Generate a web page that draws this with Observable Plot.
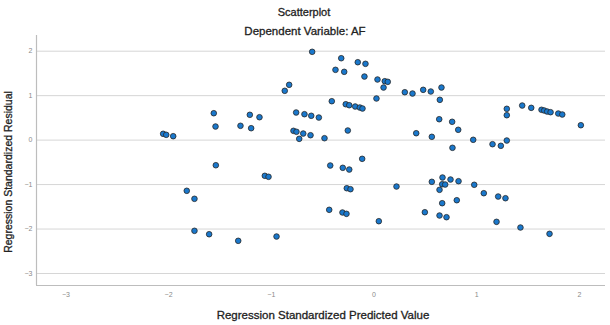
<!DOCTYPE html>
<html>
<head>
<meta charset="utf-8">
<script src="https://cdn.jsdelivr.net/npm/d3@7"></script>
<script src="https://cdn.jsdelivr.net/npm/@observablehq/plot@0.6"></script>
<style>
  html, body { margin: 0; padding: 0; background: #fff; }
  #chart svg { display: block; }
</style>
</head>
<body>
<div id="chart"></div>
<script>
const title = "Scatterplot";
const subtitle = "Dependent Variable: AF";
const xLabel = "Regression Standardized Predicted Value";
const yLabel = "Regression Standardized Residual";
const xTicks = [-3, -2, -1, 0, 1, 2];
const yTicks = [-3, -2, -1, 0, 1, 2];

// Standardized predicted values (x) and standardized residuals (y)
const predicted = [
  -2.053, -2.023, -1.955, -1.560, -1.543, -1.540, -1.823, -1.748, -1.748, -1.605,
  -0.602, -0.319, -0.158, -0.083, -0.375, -0.290, -0.093, -0.826, -0.869, 0.034,
  0.105, 0.134, 0.093, 0.300, 0.375, 0.024, -0.411, -0.275, -0.241, -0.183,
  -0.138, -0.112, -1.209, -1.115, -0.758, -0.677, -0.611, -0.537, -1.300, -1.196,
  -0.255, -0.784, -0.755, -0.689, -0.618, -0.728, -0.482, 0.411, -0.115, -0.426,
  -0.304, -0.241, -1.063, -1.027, -0.265, -0.229, 0.219, -0.436, -0.307, -0.268,
  0.047, -1.322, -0.949, 0.479, 0.553, 0.657, 0.641, 1.443, 1.531, 1.293,
  1.293, 1.631, 1.657, 1.686, 1.719, 1.794, 1.833, 2.014, 0.635, 0.761,
  0.820, 0.563, 0.966, 1.154, 1.235, 1.293, 0.764, 0.563, 0.667, 0.664,
  0.693, 0.745, 0.823, 0.976, 0.638, 1.069, 1.209, 1.280, 0.806, 0.664,
  0.495, 0.638, 0.706, 1.193, 1.426, 1.709
];
const residual = [
  0.142, 0.119, 0.088, 0.605, 0.306, -0.565, -1.140, -1.320, -2.040, -2.117,
  1.986, 1.842, 1.752, 1.716, 1.581, 1.536, 1.430, 1.244, 1.109, 1.363,
  1.325, 1.311, 1.183, 1.077, 1.048, 0.936, 0.875, 0.807, 0.785, 0.756,
  0.733, 0.711, 0.569, 0.515, 0.621, 0.583, 0.547, 0.508, 0.322, 0.268,
  0.216, 0.209, 0.187, 0.148, 0.110, 0.029, 0.043, 0.155, -0.421, -0.571,
  -0.623, -0.662, -0.803, -0.825, -1.082, -1.104, -1.044, -1.568, -1.628, -1.658,
  -1.824, -2.265, -2.168, 1.131, 1.093, 1.183, 0.906, 0.778, 0.726, 0.704,
  0.560, 0.682, 0.666, 0.643, 0.628, 0.598, 0.576, 0.335, 0.470, 0.412,
  0.232, 0.074, 0.007, -0.092, -0.128, -0.009, -0.173, -0.938, -0.841, -0.992,
  -0.999, -0.886, -0.924, -1.005, -1.118, -1.194, -1.269, -1.307, -1.352, -1.419,
  -1.622, -1.696, -1.734, -1.838, -1.966, -2.108
];

const points = predicted.map((x, i) => ({x, y: residual[i]}));

const xDomain = [-3.286, 2.254];
const yDomain = [-3.27, 2.353];

const chart = Plot.plot({
  width: 610,
  height: 325,
  marginTop: 35,
  marginBottom: 40,
  marginLeft: 36,
  marginRight: 5,
  style: {fontFamily: "'Liberation Sans', Arial, sans-serif", background: "#fff", overflow: "visible"},
  x: {domain: xDomain},
  y: {domain: yDomain},
  marks: [
    Plot.ruleY(yTicks, {stroke: "#d6d6d6", strokeWidth: 1}),
    Plot.ruleX([xDomain[0]], {stroke: "#bdbdbd", strokeWidth: 1.2}),
    Plot.ruleY([yDomain[0]], {stroke: "#bdbdbd", strokeWidth: 1.2}),
    Plot.axisX(xTicks, {tickSize: 0, tickPadding: 7, fontSize: 7, fill: "#8a8a8a", label: null}),
    Plot.axisY(yTicks, {tickSize: 0, tickPadding: 4, fontSize: 7, fill: "#8a8a8a", label: null}),
    Plot.dot(points, {x: "x", y: "y", r: 2.8, fill: "#1a78cc", stroke: "#262626", strokeWidth: 0.8})
  ]
});

const svg = d3.select(chart);
const txtColor = "#222";
function label(el) {
  return el.attr("fill", txtColor).attr("stroke", txtColor).attr("stroke-width", 0.3);
}
label(svg.append("text").attr("x", 304).attr("y", 16).attr("text-anchor", "middle")
  .attr("font-size", 11)).text(title);
label(svg.append("text").attr("x", 305).attr("y", 35).attr("text-anchor", "middle")
  .attr("font-size", 11.5)).text(subtitle);
label(svg.append("text").attr("x", 323).attr("y", 319).attr("text-anchor", "middle")
  .attr("font-size", 11.5)).text(xLabel);
label(svg.append("text").attr("transform", "translate(12,172) rotate(-90)").attr("text-anchor", "middle")
  .attr("font-size", 10.5)).text(yLabel);

document.getElementById("chart").appendChild(chart);
</script>
</body>
</html>
